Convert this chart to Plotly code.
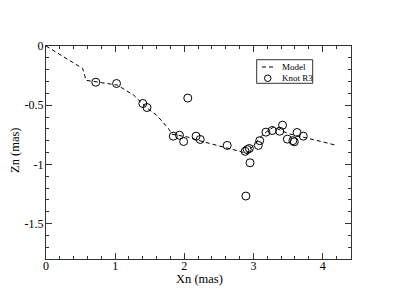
import plotly.graph_objects as go

# Model curve (dashed)
model_x = [0.0, 0.27, 0.53, 0.58, 0.70, 1.03, 1.27, 1.45, 1.60, 1.77, 1.82, 2.04, 2.28, 2.57, 2.83, 2.90,
           3.00, 3.10, 3.20, 3.29, 3.50, 3.80, 4.00, 4.20]
model_y = [0.0, -0.095, -0.19, -0.29, -0.30, -0.33, -0.416, -0.52, -0.585, -0.697, -0.745, -0.768, -0.81,
           -0.852, -0.895, -0.91, -0.84, -0.77, -0.72, -0.685, -0.74, -0.78, -0.81, -0.84]

# Knot R3 observations
knot_x = [0.72, 1.02, 1.40, 1.46, 1.84, 1.93, 1.99, 2.05, 2.17, 2.23, 2.62, 2.88, 2.91, 2.94, 2.95, 2.89,
          3.07, 3.09, 3.18, 3.27, 3.38, 3.42, 3.49, 3.57, 3.59, 3.63, 3.72]
knot_y = [-0.306, -0.317, -0.486, -0.52, -0.762, -0.754, -0.807, -0.44, -0.762, -0.79, -0.84, -0.89, -0.875,
          -0.866, -0.987, -1.268, -0.84, -0.80, -0.728, -0.714, -0.72, -0.669, -0.787, -0.80, -0.81, -0.731, -0.762]

x_ticks = [0, 1, 2, 3, 4]
x_ticktext = ["0", "1", "2", "3", "4"]
y_ticks = [0, -0.5, -1, -1.5]
y_ticktext = ["0", "-0.5", "-1", "-1.5"]
legend_labels = ["Model", "Knot R3"]
x_title = "Xn (mas)"
y_title = "Zn (mas)"

FONT = "Liberation Serif"
AX = "#333333"
W, H = 395, 305
ML, MR, MT, MB = 46, 44, 46, 46
PW, PH = W - ML - MR, H - MT - MB


def px(xp):
    return (xp - ML) / PW


def py(yp):
    return 1 - (yp - MT) / PH


fig = go.Figure()
fig.add_trace(go.Scatter(x=model_x, y=model_y, mode="lines", name=legend_labels[0], showlegend=False,
                         line=dict(color="black", width=1, dash="4px,3px")))
fig.add_trace(go.Scatter(x=knot_x, y=knot_y, mode="markers", name=legend_labels[1], showlegend=False,
                         marker=dict(symbol="circle-open", size=8, color="black",
                                     line=dict(width=1, color="black"))))

axis_common = dict(showgrid=False, zeroline=False, showline=True, linecolor=AX, linewidth=1,
                   mirror="ticks", ticks="inside", ticklen=6, tickcolor=AX, tickwidth=1,
                   automargin=False,
                   tickfont=dict(family=FONT, size=12, color="black"))

fig.update_xaxes(range=[0, 4.41], tickmode="array", tickvals=x_ticks, ticktext=x_ticktext,
                 ticklabelstandoff=-4,
                 minor=dict(dtick=0.2, tick0=0, ticklen=3, ticks="inside", tickcolor=AX, showgrid=False),
                 **axis_common)
fig.update_yaxes(range=[-1.8, 0], tickmode="array", tickvals=y_ticks, ticktext=y_ticktext,
                 ticklabelstandoff=-1,
                 minor=dict(dtick=0.1, tick0=0, ticklen=3, ticks="inside", tickcolor=AX, showgrid=False),
                 **axis_common)

# Hand-drawn legend box (decoration)
shapes = [
    dict(type="rect", xref="paper", yref="paper", x0=px(256.7), x1=px(312.7), y0=py(83.3), y1=py(59.7),
         line=dict(color=AX, width=1), fillcolor="white", layer="above"),
    dict(type="line", xref="paper", yref="paper", x0=px(262), x1=px(273), y0=py(67), y1=py(67),
         line=dict(color="black", width=1, dash="4px,3px"), layer="above"),
    dict(type="circle", xref="paper", yref="paper", x0=px(264.5), x1=px(271), y0=py(81.5), y1=py(75),
         line=dict(color="black", width=1), layer="above"),
]
annotations = [
    dict(xref="paper", yref="paper", x=px(280), y=py(67), text=legend_labels[0], showarrow=False,
         xanchor="left", yanchor="middle", font=dict(family=FONT, size=9, color="black")),
    dict(xref="paper", yref="paper", x=px(280), y=py(78.3), text=legend_labels[1], showarrow=False,
         xanchor="left", yanchor="middle", font=dict(family=FONT, size=9, color="black")),
    dict(xref="paper", yref="paper", x=px(199), y=py(278.5), text=x_title, showarrow=False,
         xanchor="center", yanchor="middle", font=dict(family=FONT, size=12.5, color="black")),
    dict(xref="paper", yref="paper", x=px(15), y=py(151), text=y_title, showarrow=False, textangle=-90,
         xanchor="center", yanchor="middle", font=dict(family=FONT, size=12.5, color="black")),
]

fig.update_layout(
    width=W, height=H,
    margin=dict(l=ML, r=MR, t=MT, b=MB),
    paper_bgcolor="white", plot_bgcolor="white",
    font=dict(family=FONT, size=12, color="black"),
    shapes=shapes, annotations=annotations,
    showlegend=False,
)

fig.write_html("out.html", config={"displayModeBar": False},
               post_script="document.body.style.margin='0';document.body.style.padding='0';")
